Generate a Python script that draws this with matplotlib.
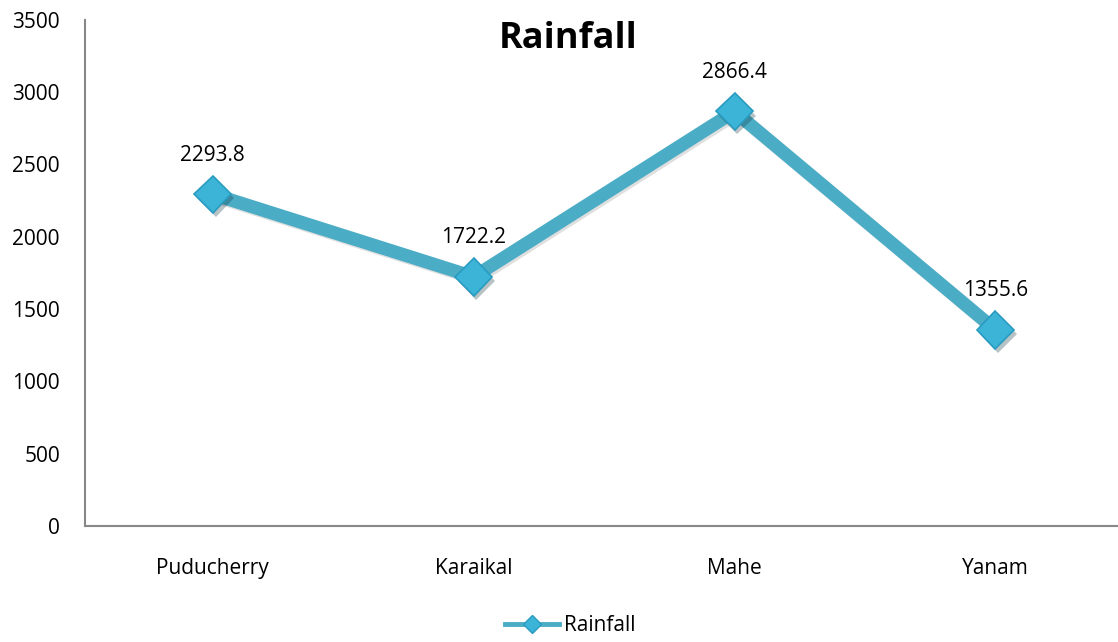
import matplotlib.pyplot as plt
import matplotlib.patheffects as pe

# data
regions = ['Puducherry', 'Karaikal', 'Mahe', 'Yanam']
rainfall = [2293.8, 1722.2, 2866.4, 1355.6]
yticks = [0, 500, 1000, 1500, 2000, 2500, 3000, 3500]

plt.rcParams['font.family'] = ['Open Sans', 'DejaVu Sans']

fig = plt.figure(figsize=(11.18, 6.42), dpi=100)
ax = fig.add_axes([0.076, 0.181, 0.924, 0.788])

x = list(range(len(regions)))
shadow = [pe.SimpleLineShadow(offset=(1.5, -1.5), shadow_color='gray', alpha=0.25), pe.Normal()]
ax.plot(x, rainfall, color='#4BACC6', linewidth=9.5, solid_capstyle='butt', zorder=2,
        path_effects=shadow)
ax.plot(x, rainfall, linestyle='none', marker='D', markersize=19,
        markerfacecolor='#3BB4D8', markeredgecolor='#2A9BC0', markeredgewidth=1.2,
        zorder=3, path_effects=[pe.SimplePatchShadow(offset=(2, -3), alpha=0.3), pe.Normal()])

for xi, v in zip(x, rainfall):
    ax.annotate(f'{v}', (xi, v), xytext=(0, 28), textcoords='offset points',
                ha='center', va='center', fontsize=15)

ax.set_xlim(-0.49, 3.47)
ax.set_ylim(0, 3500)
ax.set_yticks(yticks)
ax.set_xticks(x)
ax.set_xticklabels(regions)
ax.tick_params(axis='y', length=0, pad=18, labelsize=15)
ax.tick_params(axis='x', length=0, pad=23, labelsize=15)

for s in ['top', 'right']:
    ax.spines[s].set_visible(False)
for s in ['left', 'bottom']:
    ax.spines[s].set_color('#888888')
    ax.spines[s].set_linewidth(1.5)

fig.text(0.508, 0.94, 'Rainfall', ha='center', va='center', fontsize=26, fontweight='bold')

leg_line, = ax.plot([], [], color='#4BACC6', linewidth=3.5, marker='D', markersize=9,
                    markerfacecolor='#3BB4D8', markeredgecolor='#2A9BC0', label='Rainfall')
fig.legend(handles=[leg_line], loc='center', bbox_to_anchor=(0.51, 0.025), frameon=False,
           fontsize=15, handlelength=2.6, handletextpad=0.2)

fig.savefig('out.png', dpi=100)
